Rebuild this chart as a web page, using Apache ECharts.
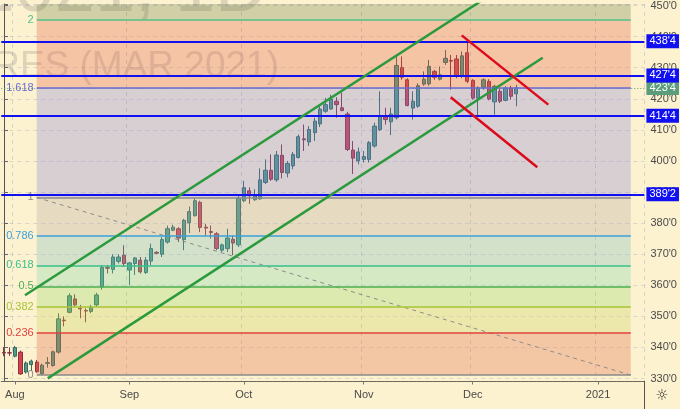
<!DOCTYPE html>
<html><head><meta charset="utf-8">
<script src="https://cdn.jsdelivr.net/npm/echarts@6/dist/echarts.min.js"></script>
<style>html,body{margin:0;padding:0;background:#fdf2d0;}#c{width:680px;height:409px;}</style>
</head><body><div id="c"></div>
<script>
// ---- data ----
const dates = [
'2020-07-30','2020-07-31',
'2020-08-03','2020-08-04','2020-08-05','2020-08-06','2020-08-07','2020-08-10','2020-08-11','2020-08-12','2020-08-13','2020-08-14',
'2020-08-17','2020-08-18','2020-08-19','2020-08-20','2020-08-21','2020-08-24','2020-08-25','2020-08-26','2020-08-27','2020-08-28','2020-08-31',
'2020-09-01','2020-09-02','2020-09-03','2020-09-04','2020-09-08','2020-09-09','2020-09-10','2020-09-11','2020-09-14','2020-09-15','2020-09-16',
'2020-09-17','2020-09-18','2020-09-21','2020-09-22','2020-09-23','2020-09-24','2020-09-25','2020-09-28','2020-09-29','2020-09-30',
'2020-10-01','2020-10-02','2020-10-05','2020-10-06','2020-10-07','2020-10-08','2020-10-09','2020-10-12','2020-10-13','2020-10-14','2020-10-15',
'2020-10-16','2020-10-19','2020-10-20','2020-10-21','2020-10-22','2020-10-23','2020-10-26','2020-10-27','2020-10-28','2020-10-29','2020-10-30',
'2020-11-02','2020-11-03','2020-11-04','2020-11-05','2020-11-06','2020-11-09','2020-11-10','2020-11-11','2020-11-12','2020-11-13',
'2020-11-16','2020-11-17','2020-11-18','2020-11-19','2020-11-20','2020-11-23','2020-11-24','2020-11-25','2020-11-27','2020-11-30',
'2020-12-01','2020-12-02','2020-12-03','2020-12-04','2020-12-07','2020-12-08','2020-12-09','2020-12-10','2020-12-11',
'2020-12-14','2020-12-15','2020-12-16','2020-12-17','2020-12-18','2020-12-21','2020-12-22','2020-12-23','2020-12-24','2020-12-25',
'2020-12-28','2020-12-29','2020-12-30','2020-12-31',
'2021-01-01','2021-01-04','2021-01-05','2021-01-06','2021-01-07','2021-01-08','2021-01-11','2021-01-12','2021-01-13'
];
const opens = [338.4,338.3,337.2,338.5,332.1,334.5,335.3,331.6,334.9,334.2,338.5,348.8,351.3,355.6,352.6,351.9,351.6,353.7,359.5,365.7,365.1,367.7,369.7,
364.9,367.0,368.1,364.1,367.8,370.6,370.0,373.9,377.7,378.2,374.7,380.1,382.4,386.7,378.7,377.3,376.6,371.3,371.8,374.8,373.0,
387.2,390.4,387.5,387.8,393.1,397.0,393.9,401.8,396.1,398.4,401.1,407.1,406.1,409.1,411.9,416.0,416.7,419.2,417.1,415.1,403.5,400.0,
400.5,400.5,404.8,410.1,414.2,412.6,413.9,430.0,426.1,417.0,417.6,424.7,424.8,428.8,426.3,431.7,432.3,432.8,427.2,434.8,
425.9,420.2,423.7,425.6,419.0,422.4,419.5,423.4,421.6];
const highs = [340.1,340.0,340.5,339.0,335.5,336.1,336.0,334.8,336.9,339.0,351.0,350.0,357.4,357.1,353.7,352.6,353.7,357.6,366.5,366.5,370.0,370.0,372.9,
367.5,369.1,369.1,369.1,373.4,371.0,375.5,379.2,379.5,378.7,381.4,385.3,388.0,387.2,379.8,379.2,377.1,373.4,378.2,376.0,388.8,
393.6,391.5,390.9,397.6,400.5,402.1,403.2,405.3,400.0,402.9,408.5,411.7,411.2,413.9,418.1,420.3,421.3,420.5,422.0,415.8,406.4,404.3,
403.2,406.4,412.3,422.4,417.1,417.1,434.1,433.6,426.6,422.4,425.0,428.8,432.5,429.3,430.4,435.7,434.1,434.1,435.2,438.4,
426.3,424.0,426.6,426.3,424.5,423.4,424.0,424.2,424.5];
const lows = [337.2,337.3,336.8,331.2,331.6,332.4,331.9,331.1,333.5,333.8,338.0,346.8,351.0,353.2,349.4,348.1,351.0,353.2,358.6,363.8,363.8,367.0,365.9,
360.1,363.3,363.8,363.6,366.5,370.0,369.1,373.4,377.4,373.9,371.3,376.8,382.1,377.1,376.0,375.0,371.3,370.7,370.7,369.7,372.3,
386.7,386.2,387.2,387.5,392.6,393.6,393.3,394.4,394.7,397.3,400.8,403.2,404.8,406.4,410.9,415.5,416.5,413.9,416.0,403.2,395.8,398.9,
399.5,399.5,404.3,409.6,411.7,408.3,413.3,426.1,417.6,413.3,417.1,424.2,424.2,426.1,425.9,430.9,422.9,426.6,426.6,425.0,
419.7,414.4,422.9,419.5,414.9,418.6,419.2,419.7,417.6];
const closes = [338.2,338.2,340.0,331.5,335.0,335.6,332.2,334.3,335.1,338.6,349.2,348.6,356.6,353.7,352.4,351.7,352.9,356.9,365.7,365.5,369.1,369.1,367.0,
367.2,368.8,364.3,368.1,371.8,370.3,374.7,378.2,378.7,375.2,380.9,383.7,387.2,378.6,378.4,377.0,371.8,373.0,375.2,373.6,388.0,
391.4,388.8,388.8,393.9,397.0,394.1,401.9,396.3,399.2,402.1,407.8,406.8,410.1,412.8,416.7,418.1,419.9,418.1,416.2,403.7,400.9,402.9,
401.4,405.9,411.2,414.4,413.3,415.1,430.7,426.9,417.8,419.2,424.2,426.3,430.4,426.9,427.7,433.0,432.1,427.2,433.8,425.6,
420.2,423.5,426.1,419.9,424.0,419.2,423.4,420.8,423.5];
const monthLabels = {'2020-08-03':'Aug','2020-09-01':'Sep','2020-10-01':'Oct','2020-11-02':'Nov','2020-12-01':'Dec','2021-01-01':'2021'};
const levelLines = [438.5, 427.5, 414.5, 389.25];
const lastPrice = 423.5;
const fibRatios = [0, 0.236, 0.382, 0.5, 0.618, 0.786, 1, 1.618, 2];
const fibLabels = ['0','0.236','0.382','0.5','0.618','0.786','1','1.618','2'];
const fibAnchorLow = 331.11, fibAnchorHigh = 388.25;
const fibStartIdx = 6, fibEndIdx = 115;
const channelUpper = [[3.85, 356.8], [95, 459.9]];
const channelLower = [[8.02, 330.07], [98.84, 433.2]];
const redUpper = [[83.98, 440.39], [99.87, 418.11]];
const redLower = [[81.96, 420.46], [97.85, 397.96]];
const yMin = 329.05, yMax = 450.48;

// ---- styles ----
const fibLineColors = ['#8a8a8a','#e0403c','#a6c436','#4caf50','#36bf8c','#3aa0d8','#8a8a8a','#6a6ad2','#52c08a'];
const fibBandColors = ['rgba(226,110,70,0.32)','rgba(200,210,90,0.3)','rgba(150,215,100,0.3)','rgba(120,212,170,0.3)',
  'rgba(120,185,190,0.3)','rgba(180,165,160,0.3)','rgba(130,125,215,0.3)','rgba(228,100,70,0.32)','rgba(110,125,70,0.3)'];

function fmtPrice(v){ const i=Math.floor(v+1e-9); const e=Math.round((v-i)*8); return i+"'"+e; }
const fibPrice = r => fibAnchorLow + r*(fibAnchorHigh-fibAnchorLow);

const bands = [];
for (let k=1;k<fibRatios.length;k++){
  bands.push([{coord:[fibStartIdx, fibPrice(fibRatios[k-1])], itemStyle:{color:fibBandColors[k-1]}},{coord:[fibEndIdx, fibPrice(fibRatios[k])]}]);
}
bands.push([{coord:[fibStartIdx, fibPrice(2)], itemStyle:{color:fibBandColors[8]}},{coord:[fibEndIdx, yMax]}]);

const fibLines = fibRatios.map((r,k)=>[
  {coord:[fibStartIdx, fibPrice(r)], lineStyle:{color:fibLineColors[k], width:1.5, type:'solid'},
   label:{show:true, position:'start', formatter:fibLabels[k], color:fibLineColors[k], fontSize:11, distance:3, fontFamily:'Liberation Sans'}},
  {coord:[fibEndIdx, fibPrice(r)]}
]);

const isMonth = (i, v) => monthLabels[v] !== undefined;

const chart = echarts.init(document.getElementById('c'), null, {renderer:'canvas'});
const fontFam = 'Liberation Sans, Arial, sans-serif';
chart.setOption({
  backgroundColor:'#fdf2d0',
  animation:false,
  graphic:[
    {type:'text', z:0, x:267, y:-8.6, style:{text:'ZCH2021, 1D', align:'right', verticalAlign:'middle', font:'72px Liberation Sans', fill:'rgba(90,90,90,0.2)'}},
    {type:'text', z:0, x:279, y:66.9, style:{text:'CORN FUTURES (MAR 2021)', align:'right', verticalAlign:'middle', font:'37px Liberation Sans', fill:'rgba(90,90,90,0.2)'}},
    {type:'line', z:10, shape:{x1:644.5, y1:381, x2:644.5, y2:409}, style:{stroke:'#555', lineWidth:1}},
    {type:'text', z:10, x:662, y:396, style:{text:'\u263C', align:'center', verticalAlign:'middle', font:'15px DejaVu Sans', fill:'#333'}}
  ],
  grid:{left:1.275, right:35.6, top:0, bottom:27.5, containLabel:false},
  xAxis:[
    {type:'category', data:dates, boundaryGap:true,
     axisLine:{show:true, lineStyle:{color:'#6b6b60', width:1}},
     axisTick:{show:true, interval:isMonth, alignWithLabel:true, length:3, lineStyle:{color:'#777'}},
     axisLabel:{interval:isMonth, formatter:v=>monthLabels[v]||'', color:'#4a4a4a', fontSize:11, fontFamily:fontFam, margin:8},
     splitLine:{show:true, interval:isMonth, lineStyle:{color:'rgba(140,150,190,0.35)', type:[4,4], width:1}}},
    {type:'value', min:-0.5, max:dates.length-0.5, show:false}
  ],
  yAxis:[{type:'value', position:'right', min:yMin, max:yMax, splitNumber:12, scale:true,
    axisLine:{show:true, lineStyle:{color:'#555', width:1}},
    axisTick:{show:true, length:4, lineStyle:{color:'#666'}},
    axisLabel:{color:'#4a4a4a', fontSize:11, fontFamily:fontFam, margin:6,
      formatter:v=> (Math.abs(v/10-Math.round(v/10))<1e-6) ? fmtPrice(v) : ''},
    splitLine:{show:true, lineStyle:{color:'rgba(140,150,190,0.3)', type:[4,4]}}}],
  series:[
    {type:'candlestick', name:'ZCH2021', xAxisIndex:0, yAxisIndex:0, z:2, barWidth:'70%',
     data: opens.map((o,i)=>[o, closes[i], lows[i], highs[i]]),
     itemStyle:{color:'#4f9c84', color0:'#d4424e', borderColor:'#3a6a60', borderColor0:'#8a3440', borderWidth:1},
     markLine:{symbol:'none', silent:true, z:5, animation:false,
       data: levelLines.map(v=>({yAxis:v, lineStyle:{color:'#1010f0', width:2, type:'solid'},
         label:{show:true, position:'end', formatter:fmtPrice(v), color:'#fff', backgroundColor:'#1010f0', padding:[2,3,1,3], fontSize:11, lineHeight:11, distance:2, fontFamily:fontFam}}))}
    },
    {type:'line', name:'fib', xAxisIndex:1, yAxisIndex:0, z:3, symbol:'none', silent:true,
     data:[[fibStartIdx, fibPrice(1)],[fibEndIdx, fibPrice(0)]],
     lineStyle:{color:'#8c8c8c', width:1, type:[4,4]},
     markArea:{silent:true, z:3, data:bands},
     markLine:{symbol:'none', silent:true, z:4, animation:false,
       data:[{yAxis:lastPrice, lineStyle:{color:'#5fa07c', width:1, type:[1,2]},
              label:{show:true, position:'end', formatter:fmtPrice(lastPrice), color:'#fff', backgroundColor:'#5b9c7a', padding:[2,3,1,3], fontSize:11, lineHeight:11, distance:2, fontFamily:fontFam}}].concat(fibLines)}
    },
    {type:'line', xAxisIndex:1, z:6, symbol:'none', silent:true, data:channelUpper, lineStyle:{color:'#2a9a3c', width:2.5}},
    {type:'line', xAxisIndex:1, z:6, symbol:'none', silent:true, data:channelLower, lineStyle:{color:'#2a9a3c', width:2.5}},
    {type:'line', xAxisIndex:1, z:6, symbol:'none', silent:true, data:redUpper, lineStyle:{color:'#dd0a1c', width:2.5}},
    {type:'line', xAxisIndex:1, z:6, symbol:'none', silent:true, data:redLower, lineStyle:{color:'#dd0a1c', width:2.5}}
  ]
});
</script></body></html>
